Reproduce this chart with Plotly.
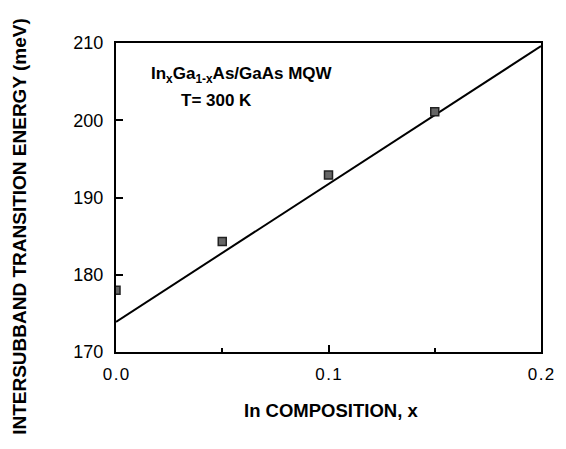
import plotly.graph_objects as go

composition = [0.0, 0.05, 0.10, 0.15]
energy = [178.0, 184.3, 192.9, 201.1]
fit_x = [0.0, 0.2]
fit_y = [173.9, 209.6]

x_tickvals = [0.0, 0.1, 0.2]
x_ticktext = ["0\u200a.\u200a0", "0\u200a.\u200a1", "0\u200a.\u200a2"]
y_tickvals = [170, 180, 190, 200, 210]

font = "Liberation Sans, Arial, Helvetica, sans-serif"

L, R, T, B = 116, 17, 43, 97
W, H = 566, 449
pw, ph = W - L - R, H - T - B

fig = go.Figure()
fig.add_trace(go.Scatter(x=fit_x, y=fit_y, mode="lines",
                         line=dict(color="black", width=2), showlegend=False))
fig.add_trace(go.Scatter(x=composition, y=energy, mode="markers",
                         marker=dict(symbol="square", size=8, color="#666666",
                                     line=dict(color="#222222", width=1.5)),
                         showlegend=False, cliponaxis=True))

fig.add_annotation(x=0.0157, y=205.85, xref="x", yref="y", xanchor="left", yanchor="middle",
                   text="<b>In<sub>x</sub>Ga<sub>1-x</sub>As/GaAs MQW</b>", showarrow=False,
                   font=dict(family=font, size=17, color="black"))
fig.add_annotation(x=0.0296, y=202.6, xref="x", yref="y", xanchor="left", yanchor="middle",
                   text="<b>T= 300 K</b>", showarrow=False,
                   font=dict(family=font, size=17, color="black"))

# axis titles
fig.add_annotation(x=(17 - L) / pw, y=(H - B - 226) / ph, xref="paper", yref="paper",
                   xanchor="center", yanchor="middle", textangle=-90,
                   text="<b>INTERSUBBAND TRANSITION ENERGY (meV)</b>", showarrow=False,
                   font=dict(family=font, size=19, color="black"))
fig.add_annotation(x=(335 - L) / pw, y=(H - B - 410) / ph, xref="paper", yref="paper",
                   xanchor="center", yanchor="middle",
                   text="<b>In COMPOSITION, x</b>", showarrow=False,
                   font=dict(family=font, size=18.5, color="black"))

fig.update_layout(
    width=W, height=H,
    margin=dict(l=L, r=R, t=T, b=B),
    paper_bgcolor="white", plot_bgcolor="white",
    font=dict(family=font, color="black"),
)
fig.update_xaxes(range=[0, 0.2], tickvals=x_tickvals, ticktext=x_ticktext,
                 ticks="inside", ticklen=7, tickwidth=1.5, tickcolor="black",
                 ticklabelstandoff=6,
                 minor=dict(tickvals=[0.05, 0.15], ticks="inside", ticklen=4, tickwidth=1.5, tickcolor="black"),
                 showline=True, linecolor="black", linewidth=2, mirror=True,
                 showgrid=False, zeroline=False,
                 tickfont=dict(size=17, family=font))
fig.update_yaxes(range=[170, 210], tickvals=y_tickvals,
                 ticks="inside", ticklen=7, tickwidth=1.5, tickcolor="black",
                 ticklabelstandoff=7,
                 showline=True, linecolor="black", linewidth=2, mirror=True,
                 showgrid=False, zeroline=False,
                 tickfont=dict(size=18, family=font))

fig.write_html("out.html", config={"displayModeBar": False},
               post_script="document.body.style.margin='0';document.body.style.overflow='hidden';")
